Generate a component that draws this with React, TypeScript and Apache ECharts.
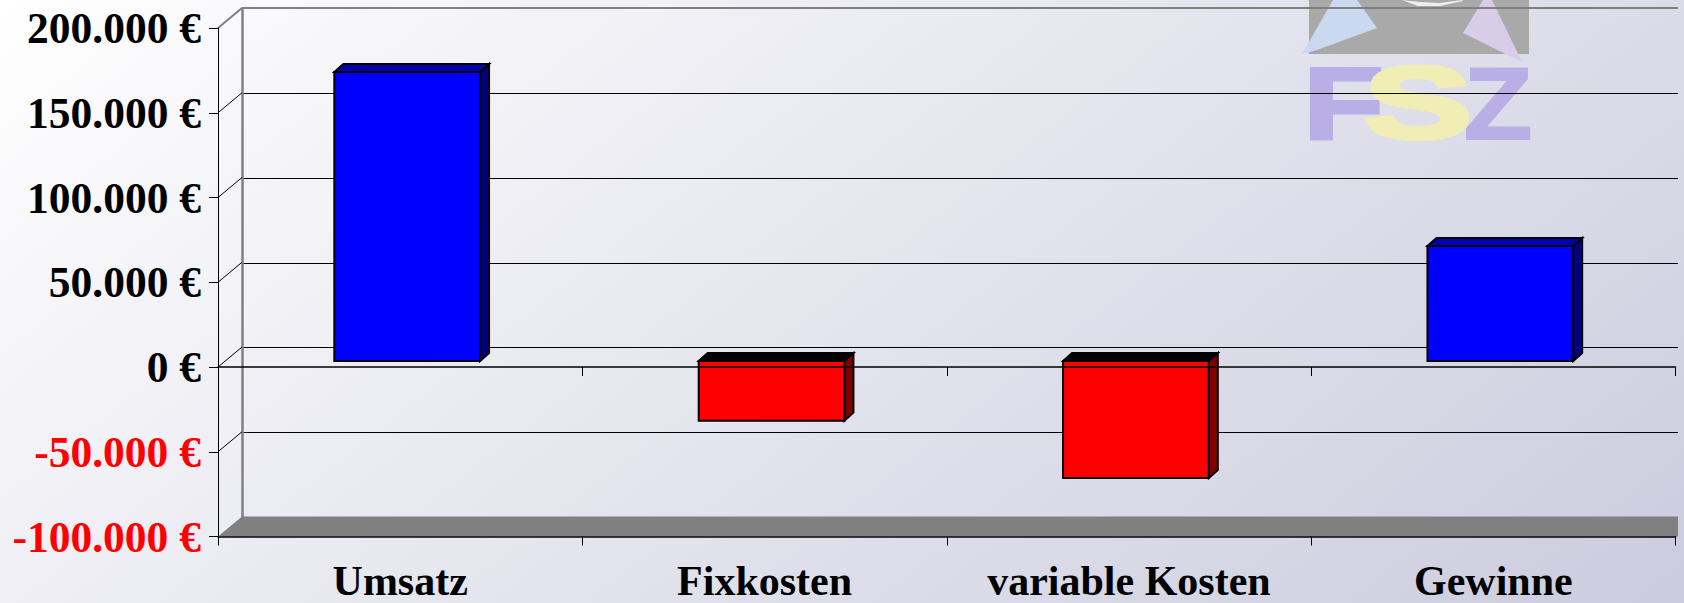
import React, { useEffect, useRef } from "react";
import * as echarts from "echarts";

const categories = ["Umsatz", "Fixkosten", "variable Kosten", "Gewinne"];
const values = [170500, -35200, -69000, 67900];
const tickValues = [-100000, -50000, 0, 50000, 100000, 150000, 200000];
const tickLabels = ["-100.000 €", "-50.000 €", "0 €", "50.000 €", "100.000 €", "150.000 €", "200.000 €"];
const FONT = '"Liberation Serif", serif';

// wall depth and bar plane offset, in pixels
const WALL_DX = 24;
const WALL_DY = 20;
const BAR_DX = 7;
const BAR_DY = 6;
const DEPTH_X = 9;
const DEPTH_Y = 8;

function renderBar(params: any, api: any) {
  const cat = api.value(0);
  const val = api.value(1);
  const p = api.coord([cat, val]);
  const base = api.coord([cat, 0]);
  const w = api.size([1, 0])[0] * 0.4;
  const x0 = p[0] - w / 2 + BAR_DX;
  const x1 = x0 + w;
  const yVal = p[1] - BAR_DY;
  const yBase = base[1] - BAR_DY;
  const yTop = Math.min(yVal, yBase);
  const yBot = Math.max(yVal, yBase);
  const pos = val >= 0;
  const front = pos ? "#0000ff" : "#ff0000";
  const top = pos ? "#0000b0" : "#000000";
  const side = pos ? "#000080" : "#800000";
  const stroke = { stroke: "#000", lineWidth: 2, lineJoin: "miter" };
  return {
    type: "group",
    children: [
      { type: "polygon", shape: { points: [[x0, yTop], [x0 + DEPTH_X, yTop - DEPTH_Y], [x1 + DEPTH_X, yTop - DEPTH_Y], [x1, yTop]] }, style: { fill: top, ...stroke } },
      { type: "polygon", shape: { points: [[x1, yTop], [x1 + DEPTH_X, yTop - DEPTH_Y], [x1 + DEPTH_X, yBot - DEPTH_Y], [x1, yBot]] }, style: { fill: side, ...stroke } },
      { type: "rect", shape: { x: x0, y: yTop, width: w, height: yBot - yTop }, style: { fill: front, ...stroke } },
    ],
  };
}

function renderFrame(params: any, api: any) {
  const v = api.value(1);
  const c = params.coordSys;
  const y = api.coord([0, v])[1];
  const right = c.x + c.width + 2.5;
  const children: any[] = [];
  if (v === tickValues[0]) {
    children.push({
      type: "polygon",
      shape: { points: [[c.x, y], [c.x + WALL_DX, y - WALL_DY], [right, y - WALL_DY], [right, y]] },
      style: { fill: "#808080" },
    });
  } else {
    const isTop = v === tickValues[tickValues.length - 1];
    const color = isTop ? "#808080" : "#000";
    children.push({
      type: "line",
      shape: { x1: c.x, y1: y, x2: c.x + WALL_DX, y2: y - WALL_DY },
      style: { stroke: color, lineWidth: isTop ? 2 : 1 },
    });
    if (isTop) {
      children.push({
        type: "line",
        shape: { x1: c.x + WALL_DX, y1: y - WALL_DY, x2: right, y2: y - WALL_DY },
        style: { stroke: color, lineWidth: 2 },
      });
    }
  }
  return { type: "group", children };
}

const logoFont = 'bold 102px "Liberation Sans"';
const logoElements: any[] = [
  { type: "rect", z: -1, shape: { x: 1309, y: 0, width: 220, height: 54 }, style: { fill: "#a9a9a9" } },
  { type: "polygon", z: -1, shape: { points: [[1302, 54], [1333, 0], [1357, 0], [1377, 28], [1317, 50]] }, style: { fill: "#cbd9f0" } },
  { type: "polygon", z: -1, shape: { points: [[1483, 0], [1492, 0], [1522, 62], [1463, 33]] }, style: { fill: "#d8cce8" } },
  { type: "polygon", z: -1, shape: { points: [[1402, 0], [1420, 2], [1440, 3], [1462, 0], [1463, 1], [1440, 6], [1418, 6]] }, style: { fill: "#eeeeee" } },
  { type: "text", z: -1, x: 1303, y: 104, scaleX: 1.3, style: { text: "F", x: 0, y: 0, align: "left", verticalAlign: "middle", font: logoFont, fill: "#b9aee6", stroke: "#b9aee6", lineWidth: 3 } },
  { type: "text", z: -1, x: 1498, y: 104, scaleX: 1.1, style: { text: "Z", x: 0, y: 0, align: "center", verticalAlign: "middle", font: logoFont, fill: "#b9aee6", stroke: "#b9aee6", lineWidth: 2 } },
  { type: "text", z: -1, x: 1418, y: 103, scaleX: 1.6, style: { text: "S", x: 0, y: 0, align: "center", verticalAlign: "middle", font: logoFont, fill: "#f0eeb4", stroke: "#f0eeb4", lineWidth: 4 } },
];

export default function App() {
  const ref = useRef<HTMLDivElement>(null);
  useEffect(() => {
    document.body.style.margin = "0";
    const chart = echarts.init(ref.current!, null, { renderer: "svg" });
    chart.setOption({
      animation: false,
      backgroundColor: new echarts.graphic.LinearGradient(
        0, 0, 942, 1200,
        [
          { offset: 0, color: "#ffffff" },
          { offset: 1, color: "#cbcbde" },
        ],
        true
      ),
      grid: [
        { left: 218, top: 28, width: 1457.5, height: 508.5 },
        { left: 242, top: 8.5, width: 1436, height: 508.5 },
      ],
      xAxis: [
        {
          type: "category",
          gridIndex: 0,
          data: categories,
          position: "bottom",
          z: 3,
          axisLine: { onZero: false, lineStyle: { color: "#000", width: 1.5 } },
          axisTick: { show: true, length: 9, alignWithLabel: false, lineStyle: { color: "#000", width: 1 } },
          axisLabel: { color: "#000", fontFamily: FONT, fontWeight: "bold", fontSize: 42, lineHeight: 32, margin: 28, interval: 0 },
        },
        {
          type: "category",
          gridIndex: 0,
          data: categories,
          position: "bottom",
          z: 3,
          axisLine: { onZero: true, lineStyle: { color: "#000", width: 1.5 } },
          axisTick: { show: true, length: 9, lineStyle: { color: "#000", width: 1 } },
          axisLabel: { show: false },
        },
        { type: "value", gridIndex: 1, show: false, min: 0, max: 1, splitLine: { show: false } },
      ],
      yAxis: [
        {
          type: "value",
          gridIndex: 0,
          min: -100000,
          max: 200000,
          interval: 50000,
          z: 3,
          splitLine: { show: false },
          axisLine: { show: true, onZero: false, lineStyle: { color: "#000", width: 1 } },
          axisTick: { show: true, length: 9, lineStyle: { color: "#000", width: 1 } },
          axisLabel: {
            margin: 17,
            fontFamily: FONT,
            fontWeight: "bold",
            fontSize: 43.5,
            formatter: (v: number) => tickLabels[tickValues.indexOf(v)],
            color: (v: any) => (Number(v) < 0 ? "#ff0000" : "#000000"),
          },
        },
        {
          type: "value",
          gridIndex: 1,
          min: -100000,
          max: 200000,
          interval: 50000,
          z: 0,
          axisLine: { show: true, onZero: false, lineStyle: { color: "#808080", width: 2.5 } },
          axisTick: { show: false },
          axisLabel: { show: false },
          splitLine: { show: true, lineStyle: { color: "#000", width: 1 } },
        },
      ],
      graphic: { elements: logoElements },
      series: [
        {
          type: "custom",
          name: "Rahmen",
          xAxisIndex: 0,
          yAxisIndex: 0,
          z: 1,
          silent: true,
          renderItem: renderFrame,
          data: tickValues.map((v) => [0, v]),
          encode: { x: 0, y: 1 },
        },
        {
          type: "custom",
          name: "Werte",
          xAxisIndex: 0,
          yAxisIndex: 0,
          z: 2,
          renderItem: renderBar,
          data: values.map((v, i) => [i, v]),
          encode: { x: 0, y: 1 },
        },
      ],
    });
    return () => chart.dispose();
  }, []);
  return <div ref={ref} style={{ position: "absolute", left: 0, top: 0, width: 1684, height: 603 }} />;
}
